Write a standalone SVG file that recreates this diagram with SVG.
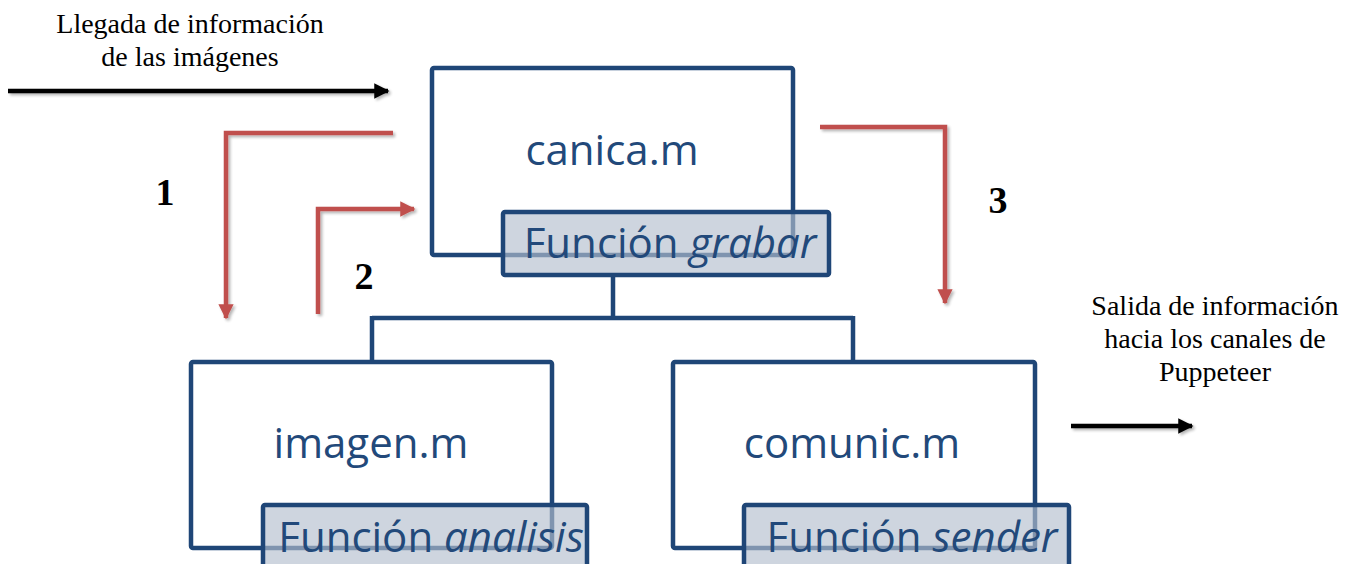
<svg xmlns="http://www.w3.org/2000/svg" width="1357" height="564" viewBox="0 0 1357 564">
<defs>
<style>
.box{fill:#fff;stroke:#1f4677;stroke-width:4.5}
.fn{fill:#b3bece;fill-opacity:0.65;stroke:#1f4677;stroke-width:4.5}
.lbl{font-family:"Open Sans","Noto Sans",sans-serif;font-size:42px;fill:#22497a;text-anchor:middle}
.tree{fill:none;stroke:#1f4677;stroke-width:4.5}
.red{fill:none;stroke:#c0504d;stroke-width:4.5;filter:url(#sh)}
.blk{fill:none;stroke:#000;stroke-width:4.5;filter:url(#sh)}
.cap{font-family:"Liberation Serif","Times New Roman",serif;font-size:28px;fill:#000;text-anchor:middle}
.num{font-family:"Liberation Serif","Times New Roman",serif;font-size:38px;font-weight:bold;fill:#000;text-anchor:middle}
</style>
<filter id="sh" filterUnits="userSpaceOnUse" x="0" y="0" width="1357" height="564">
<feGaussianBlur in="SourceAlpha" stdDeviation="1.5"/>
<feOffset dx="1.5" dy="2" result="b"/>
<feComponentTransfer><feFuncA type="linear" slope="0.3"/></feComponentTransfer>
<feMerge><feMergeNode/><feMergeNode in="SourceGraphic"/></feMerge>
</filter>
<marker id="ar" viewBox="0 0 10 10" refX="9" refY="5" markerWidth="3.4" markerHeight="3.4" orient="auto" markerUnits="strokeWidth">
<path d="M0,0 L10,5 L0,10 z" fill="#c0504d"/>
</marker>
<marker id="ak" viewBox="0 0 10 10" refX="9" refY="5" markerWidth="3.4" markerHeight="3.4" orient="auto" markerUnits="strokeWidth">
<path d="M0,0 L10,5 L0,10 z" fill="#000"/>
</marker>
</defs>
<rect width="1357" height="564" fill="#fff"/>

<g id="connectors">
<path class="tree" d="M613,275 V318 M372,318 H853 M372,316 V362 M853,316 V362"/>
<path class="blk" d="M8,91 H388" marker-end="url(#ak)"/>
<path class="blk" d="M1071,426 H1192" marker-end="url(#ak)"/>
<path class="red" d="M393,133 H226 V318" marker-end="url(#ar)"/>
<path class="red" d="M318,314 V209 H414" marker-end="url(#ar)"/>
<path class="red" d="M820,127 H945 V303" marker-end="url(#ar)"/>
</g>

<g id="canica">
<rect class="box" x="432" y="68" width="361" height="187" rx="2"/>
<text class="lbl" x="612" y="165">canica.m</text>
<rect class="fn" x="503" y="212" width="326" height="63" rx="2"/>
<text class="lbl" x="670" y="258">Función <tspan font-style="italic">grabar</tspan></text>
</g>

<g id="imagen">
<rect class="box" x="191" y="362" width="361" height="186" rx="2"/>
<text class="lbl" x="371" y="458">imagen.m</text>
<rect class="fn" x="263" y="505" width="324" height="70" rx="2"/>
<text class="lbl" x="431" y="552">Función <tspan font-style="italic">analisis</tspan></text>
</g>

<g id="comunic">
<rect class="box" x="673" y="362" width="362" height="186" rx="2"/>
<text class="lbl" x="852" y="458">comunic.m</text>
<rect class="fn" x="744" y="505" width="325" height="70" rx="2"/>
<text class="lbl" x="912" y="552">Función <tspan font-style="italic">sender</tspan></text>
</g>

<g id="captions">
<text class="cap" x="190" y="33">Llegada de información</text>
<text class="cap" x="190" y="66">de las imágenes</text>
<text class="cap" x="1215" y="315">Salida de información</text>
<text class="cap" x="1215" y="348">hacia los canales de</text>
<text class="cap" x="1215" y="381">Puppeteer</text>
<text class="num" x="165" y="205">1</text>
<text class="num" x="364" y="289">2</text>
<text class="num" x="998" y="213">3</text>
</g>
</svg>
